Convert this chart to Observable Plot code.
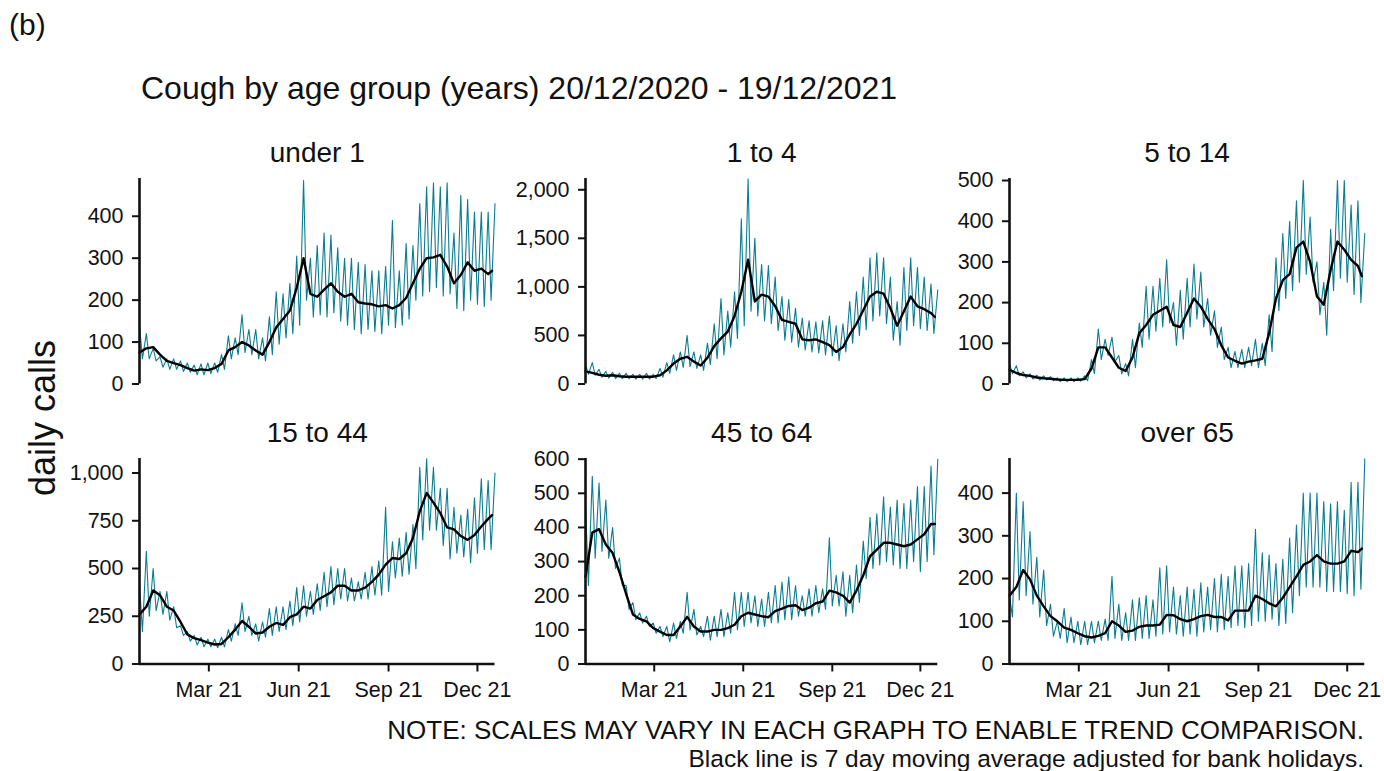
<!DOCTYPE html>
<html>
<head>
<meta charset="utf-8">
<script src="https://cdn.jsdelivr.net/npm/d3@7"></script>
<script src="https://cdn.jsdelivr.net/npm/@observablehq/plot@0.6"></script>
<style>
  body { margin: 0; background: #fff; }
  #root { position: relative; width: 1384px; height: 771px; overflow: hidden; font-family: "Liberation Sans", Arial, sans-serif; }
  #root svg { position: absolute; max-width: none; }
</style>
</head>
<body>
<div id="root"></div>
<script>
// ---------------- data ----------------
const panelLabel = "(b)";
const chartTitle = "Cough by age group (years) 20/12/2020 - 19/12/2021";
const yLabel = "daily calls";
const noteLines = [
  "NOTE: SCALES MAY VARY IN EACH GRAPH TO ENABLE TREND COMPARISON.",
  "Black line is 7 day moving average adjusted for bank holidays."
];
const groups = ["under 1", "1 to 4", "5 to 14", "15 to 44", "45 to 64", "over 65"];
const startDate = "2020-12-20";
const endDate = "2021-12-19";
const xTickDates = ["2021-03-01", "2021-06-01", "2021-09-01", "2021-12-01"];

const yTicks = [
  [0, 100, 200, 300, 400],
  [0, 500, 1000, 1500, 2000],
  [0, 100, 200, 300, 400, 500],
  [0, 250, 500, 750, 1000],
  [0, 100, 200, 300, 400, 500, 600],
  [0, 100, 200, 300, 400]
];
const yLimits = [490, 2116, 505, 1076, 602, 481];

// weekly readings (one value per week starting 20/12/2020)
const avg_under1 = [75,85,88,70,55,50,45,38,32,35, 33,38,48,80,88,100,92,80,70,100, 135,155,175,230,300,215,208,225,240,220, 208,215,195,192,190,185,188,180,188,205, 240,275,300,302,308,280,240,260,290,270, 275,262,270];
const peak_under1 = [140,120,85,65,60,60,55,50,45,48, 50,50,70,115,110,165,130,130,110,160, 220,215,240,305,485,300,330,360,355,325, 300,300,290,285,270,270,280,390,270,335, 330,430,470,480,470,480,360,450,440,410, 410,410,430];
const low_under1 = [60,60,55,40,35,35,30,28,22,22, 25,28,35,60,70,75,70,60,55,70, 95,110,120,140,200,160,165,160,170,150, 140,130,120,130,125,120,140,135,140,155, 200,210,220,230,210,215,180,175,200,190, 185,200];

const avg_1to4 = [130,115,95,85,90,80,75,75,75,75, 75,90,140,210,260,280,230,190,270,390, 470,540,700,950,1280,850,920,900,800,660, 640,620,460,450,460,430,400,330,380,510, 620,760,900,950,930,780,600,750,900,800, 770,730,690];
const peak_1to4 = [200,220,150,130,120,110,110,100,100,110, 100,160,220,300,330,500,330,300,420,620, 880,750,950,1700,2110,1500,1230,1220,1100,900, 870,780,680,650,640,650,700,600,620,850, 950,1100,1300,1350,1300,1100,850,1200,1300,1200, 1100,1030,970];
const low_1to4 = [100,90,70,60,55,55,55,50,50,50, 55,70,110,140,170,180,160,140,200,260, 300,380,470,600,750,700,650,620,550,450, 430,380,350,330,320,300,290,240,330,420, 500,560,650,700,620,450,400,550,600,570, 550,520];

const avg_5to14 = [35,27,22,20,16,14,13,11,10,10, 10,12,38,90,90,65,40,32,65,125, 145,170,180,190,145,140,175,210,190,160, 135,95,65,57,50,55,58,62,125,210, 255,270,335,350,300,215,195,280,350,330, 305,290,265];
const peak_5to14 = [50,45,30,25,22,20,18,15,15,15, 15,20,60,135,110,115,70,50,110,150, 240,240,260,305,200,230,260,295,275,210, 180,140,90,80,85,90,110,100,170,310, 370,400,450,500,410,300,250,380,500,500, 440,450,370];
const low_5to14 = [25,20,15,12,10,10,8,6,6,6, 7,8,25,60,70,55,25,20,40,90, 110,130,140,150,95,110,140,160,140,120, 90,60,40,40,40,45,40,45,80,180, 210,230,250,270,250,170,120,230,260,250, 220,200];

const avg_15to44 = [260,300,385,360,300,280,220,155,135,125, 112,102,105,140,180,225,195,160,165,195, 215,205,245,260,300,290,335,355,375,410, 410,385,385,400,430,468,520,555,550,580, 660,800,895,845,790,715,705,670,650,675, 720,760,780];
const peak_15to44 = [420,590,500,380,380,300,200,170,150,140, 130,130,140,180,210,320,250,210,220,290, 300,300,330,400,410,380,420,480,510,500, 500,450,430,480,510,540,820,640,660,690, 730,1030,1075,1030,920,920,820,780,810,870, 970,960,1000];
const low_15to44 = [170,250,280,260,230,190,150,120,100,90, 90,85,90,120,150,170,150,120,140,150, 170,180,200,220,250,260,280,300,310,340, 330,330,340,340,360,360,380,450,460,470, 500,650,700,700,620,550,580,560,530,580, 600,600];

const avg_45to64 = [255,385,395,350,325,270,205,145,132,125, 105,95,85,85,110,138,110,95,95,100, 100,105,115,140,150,145,140,137,155,162, 170,172,158,165,178,183,215,210,200,180, 215,260,315,335,355,355,350,345,350,365, 380,410,410];
const peak_45to64 = [470,550,530,480,400,310,230,180,150,140, 120,110,110,120,125,210,160,110,140,140, 160,150,210,210,210,200,190,210,230,240, 255,230,200,220,230,220,370,260,270,260, 290,360,430,440,490,460,480,470,480,520, 520,580,600];
const low_45to64 = [230,310,330,310,280,230,160,130,120,110, 90,80,65,75,90,100,85,80,70,80, 80,90,100,110,120,110,110,120,120,130, 130,140,140,140,150,160,170,170,140,150, 180,250,280,290,300,290,280,280,300,270, 300,320];

const avg_over65 = [160,180,220,198,160,135,112,100,85,80, 72,65,62,66,72,100,90,75,78,87, 90,90,92,115,114,105,100,105,112,115, 110,110,102,125,125,125,160,152,142,135, 155,180,205,232,240,255,240,235,235,240, 265,262,270];
const peak_over65 = [160,400,380,310,250,220,140,100,130,110, 100,100,100,100,105,205,140,120,150,155, 160,150,225,230,180,160,180,175,190,180, 200,210,205,230,230,235,315,260,255,235, 245,295,325,400,400,400,380,375,380,360, 425,425,480];
const low_over65 = [110,150,160,140,110,90,65,60,50,50, 45,45,50,55,55,60,55,55,55,60, 60,65,70,75,70,65,70,65,75,80, 75,80,85,90,85,90,100,100,105,90, 95,120,160,180,180,180,170,170,170,165, 160,175];

const avgs = [avg_under1, avg_1to4, avg_5to14, avg_15to44, avg_45to64, avg_over65];
const peaks = [peak_under1, peak_1to4, peak_5to14, peak_15to44, peak_45to64, peak_over65];
const lows = [low_under1, low_1to4, low_5to14, low_15to44, low_45to64, low_over65];

// ---------------- layout ----------------
const FONT = "'Liberation Sans', Arial, Helvetica, sans-serif";
const INK = "#111";
const TEAL = "#0b7d92";
const colLeft = [139, 584.6, 1009];
const colWidth = [355.5, 352.3, 355.3];
const rowTop = [178, 457.7];
const panelH = 205.5;

const DAY = 864e5;
const t0 = new Date(startDate + "T00:00:00Z");
const t1 = new Date(endDate + "T00:00:00Z");
const dayAt = n => new Date(+t0 + n * DAY);
const xTicks = xTickDates.map(s => new Date(s + "T00:00:00Z"));

const root = document.getElementById("root");

groups.forEach((name, k) => {
  const r = Math.floor(k / 3), c = k % 3;
  const daily = [];
  peaks[k].forEach((v, i) => {
    daily.push({date: dayAt(7 * i), v});
    if (i < lows[k].length) daily.push({date: dayAt(7 * i + 3), v: lows[k][i]});
  });
  const ma = avgs[k].map((v, i) => ({date: dayAt(Math.min(7 * i, 361)), v}));
  const ML = 85, MR = 8, MT = 52, MB = r ? 48 : 8;
  const W = colWidth[c];
  const marks = [
    Plot.line(daily, {x: "date", y: "v", stroke: TEAL, strokeWidth: 1.1}),
    Plot.line(ma, {x: "date", y: "v", stroke: "#000", strokeWidth: 2.4}),
    Plot.ruleX([t0], {stroke: INK, strokeWidth: 2.6}),
    Plot.axisY({ticks: yTicks[k], tickFormat: d3.format(","), tickSize: 7, tickPadding: 9,
                fontSize: 21.5, strokeWidth: 2, color: INK, label: null}),
    Plot.text([name], {text: d => d, frameAnchor: "top", lineAnchor: "middle", dy: -25, fontSize: 28, fill: INK})
  ];
  if (r) {
    marks.push(Plot.ruleY([0], {stroke: INK, strokeWidth: 2.6}));
    marks.push(Plot.axisX({ticks: xTicks, tickFormat: d3.utcFormat("%b %y"), tickSize: 8, tickPadding: 10,
                           fontSize: 21.5, strokeWidth: 2, color: INK, label: null}));
  }
  const svg = Plot.plot({
    width: ML + W + MR,
    height: MT + panelH + MB,
    marginLeft: ML, marginRight: MR, marginTop: MT, marginBottom: MB,
    style: {background: "transparent", overflow: "visible", fontFamily: FONT, color: INK},
    x: {type: "utc", domain: [t0, t1], ...(r ? {} : {axis: null})},
    y: {domain: [0, yLimits[k]]},
    marks
  });
  svg.style.left = (colLeft[c] - ML) + "px";
  svg.style.top = (rowTop[r] - MT) + "px";
  root.appendChild(svg);
});

// page-level texts
const page = d3.select(root).append("svg")
  .attr("width", 1384).attr("height", 771)
  .style("left", "0px").style("top", "0px")
  .style("font-family", FONT).style("pointer-events", "none");
page.append("text").attr("x", 9).attr("y", 35).attr("font-size", 30).attr("fill", INK).text(panelLabel);
page.append("text").attr("x", 141).attr("y", 99).attr("font-size", 32).attr("fill", INK).text(chartTitle);
page.append("text").attr("transform", "translate(55,418) rotate(-90)").attr("text-anchor", "middle")
  .attr("font-size", 36).attr("fill", INK).text(yLabel);
page.append("text").attr("x", 1364).attr("y", 739).attr("text-anchor", "end").attr("font-size", 26).attr("fill", INK).text(noteLines[0]);
page.append("text").attr("x", 1364).attr("y", 767).attr("text-anchor", "end").attr("font-size", 24.5).attr("fill", INK).text(noteLines[1]);
</script>
</body>
</html>
